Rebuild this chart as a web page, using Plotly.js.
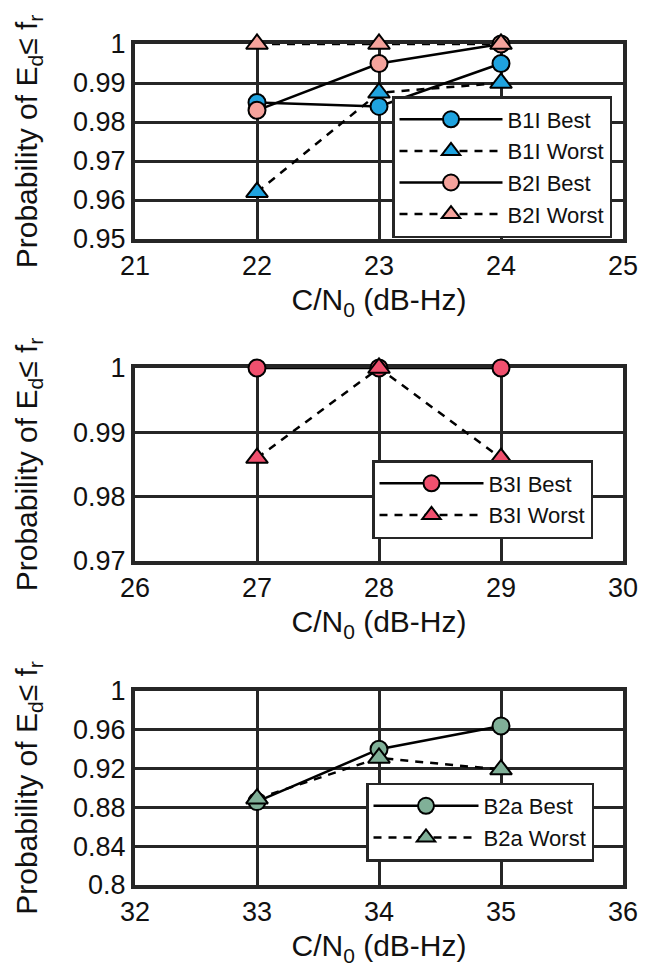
<!DOCTYPE html>
<html>
<head>
<meta charset="utf-8">
<script src="https://cdn.plot.ly/plotly-3.0.1.min.js"></script>
<style>
html,body{margin:0;padding:0;background:#fff;}
#chart{width:650px;height:973px;}
</style>
</head>
<body>
<div id="chart"></div>
<script>
// ---------- data ----------
const cn0Top = [22, 23, 24];
const b1iBest  = [0.985, 0.984, 0.995];
const b1iWorst = [0.962, 0.9875, 0.990];
const b2iBest  = [0.983, 0.995, 1.0];
const b2iWorst = [1.0, 1.0, 1.0];

const cn0Mid = [27, 28, 29];
const b3iBest  = [1.0, 1.0, 1.0];
const b3iWorst = [0.986, 1.0, 0.986];

const cn0Bot = [33, 34, 35];
const b2aBest  = [0.886, 0.940, 0.964];
const b2aWorst = [0.889, 0.931, 0.919];

const xTicksTop = [21, 22, 23, 24, 25];
const xTicksMid = [26, 27, 28, 29, 30];
const xTicksBot = [32, 33, 34, 35, 36];
const yTicksTop = [0.95, 0.96, 0.97, 0.98, 0.99, 1];
const yTextTop  = ['0.95', '0.96', '0.97', '0.98', '0.99', '1'];
const yTicksMid = [0.97, 0.98, 0.99, 1];
const yTextMid  = ['0.97', '0.98', '0.99', '1'];
const yTicksBot = [0.8, 0.84, 0.88, 0.92, 0.96, 1];
const yTextBot  = ['0.8', '0.84', '0.88', '0.92', '0.96', '1'];

const xTitle = 'C/N<sub>0</sub> (dB-Hz)';
const yTitle = 'Probability of E<sub>d</sub>\u2264 f<sub>r</sub>';

// ---------- style ----------
const FONT = 'Liberation Sans, Arial, Helvetica, sans-serif';
const INK = '#262626';
const BLUE = '#1fa3df', PINK = '#f5a39c', RED = '#f0506e', GREEN = '#80b098';

function tr(x, y, name, color, sym, dash, xa, ya, leg) {
  return {
    x: x, y: y, name: name, type: 'scatter', mode: 'lines+markers',
    xaxis: xa, yaxis: ya, legend: leg, cliponaxis: false,
    line: {color: '#000', width: 2.5, dash: dash},
    marker: {symbol: sym, size: sym === 'circle' ? 17 : 19, color: color, line: {color: '#000', width: 2}}
  };
}

const data = [
  tr(cn0Top, b1iBest,  'B1I Best',  BLUE, 'circle', 'solid', 'x', 'y', 'legend'),
  tr(cn0Top, b1iWorst, 'B1I Worst', BLUE, 'triangle-up', '8px,7px', 'x', 'y', 'legend'),
  tr(cn0Top, b2iBest,  'B2I Best',  PINK, 'circle', 'solid', 'x', 'y', 'legend'),
  tr(cn0Top, b2iWorst, 'B2I Worst', PINK, 'triangle-up', '8px,7px', 'x', 'y', 'legend'),
  tr(cn0Mid, b3iBest,  'B3I Best',  RED, 'circle', 'solid', 'x2', 'y2', 'legend2'),
  tr(cn0Mid, b3iWorst, 'B3I Worst', RED, 'triangle-up', '8px,7px', 'x2', 'y2', 'legend2'),
  tr(cn0Bot, b2aBest,  'B2a Best',  GREEN, 'circle', 'solid', 'x3', 'y3', 'legend3'),
  tr(cn0Bot, b2aWorst, 'B2a Worst', GREEN, 'triangle-up', '8px,7px', 'x3', 'y3', 'legend3')
];

const W = 650, H = 973;
const xDom = [135 / W, 623 / W];
function yDom(top, bot) { return [1 - bot / H, 1 - top / H]; }

function xax(range, ticks, anchor) {
  return {
    domain: xDom, anchor: anchor, range: range, tickvals: ticks, ticktext: ticks.map(String),
    showgrid: true, gridcolor: INK, gridwidth: 3,
    showline: true, linecolor: INK, linewidth: 4, mirror: true, zeroline: false,
    ticks: '', layer: 'below traces', fixedrange: true,
    tickfont: {family: FONT, size: 27, color: '#111'},
    title: {text: xTitle, font: {family: FONT, size: 30, color: '#111'}, standoff: 10},
    automargin: false
  };
}
function yax(range, ticks, texts, dom, anchor) {
  return {
    domain: dom, anchor: anchor, range: range, tickvals: ticks, ticktext: texts,
    showgrid: true, gridcolor: INK, gridwidth: 3,
    showline: true, linecolor: INK, linewidth: 4, mirror: true, zeroline: false,
    ticks: '', layer: 'below traces', fixedrange: true,
    tickfont: {family: FONT, size: 27, color: '#111'},
    title: {text: yTitle, font: {family: FONT, size: 30, color: '#111'}, standoff: 28},
    automargin: false
  };
}
function leg(x, y, iw) {
  return {
    x: x, y: y, xanchor: 'right', yanchor: 'middle', xref: 'paper', yref: 'paper',
    bgcolor: '#fff', bordercolor: INK, borderwidth: 2.5,
    font: {family: FONT, size: 22, color: '#111'}, itemwidth: iw, tracegroupgap: 0
  };
}

const layout = {
  width: W, height: H, margin: {l: 0, r: 0, t: 0, b: 0},
  paper_bgcolor: '#fff', plot_bgcolor: '#fff', showlegend: true,
  xaxis:  xax([21, 25], xTicksTop, 'y'),
  yaxis:  yax([0.95, 1], yTicksTop, yTextTop, yDom(44, 239), 'x'),
  xaxis2: xax([26, 30], xTicksMid, 'y2'),
  yaxis2: yax([0.97, 1], yTicksMid, yTextMid, yDom(368, 561), 'x2'),
  xaxis3: xax([32, 36], xTicksBot, 'y3'),
  yaxis3: yax([0.8, 1], yTicksBot, yTextBot, yDom(691, 885), 'x3'),
  legend:  leg(612 / W, 1 - 167 / H, 103),
  legend2: leg(593 / W, 1 - 499.5 / H, 104),
  legend3: leg(594 / W, 1 - 822 / H, 105)
};

Plotly.newPlot('chart', data, layout, {displayModeBar: false, staticPlot: true});
</script>
</body>
</html>
